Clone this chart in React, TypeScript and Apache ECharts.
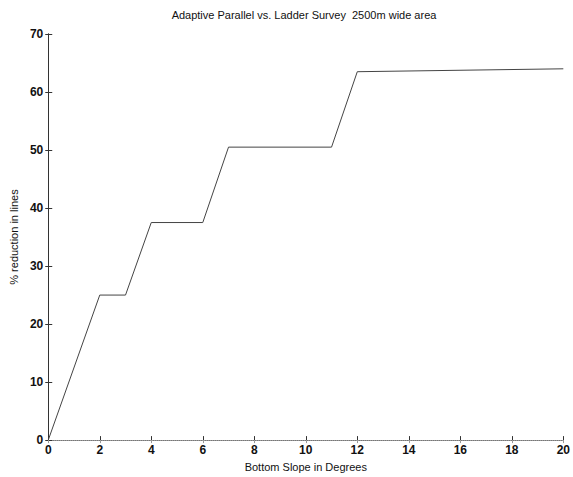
import React, { useEffect, useRef } from "react";
import * as echarts from "echarts";

const slopeDegrees = [0, 2, 3, 4, 6, 7, 11, 12, 20];
const reductionPct = [0, 25, 25, 37.5, 37.5, 50.5, 50.5, 63.5, 64];
const xTicks = [0, 2, 4, 6, 8, 10, 12, 14, 16, 18, 20];
const yTicks = [0, 10, 20, 30, 40, 50, 60, 70];

const titleText = "Adaptive Parallel vs. Ladder Survey  2500m wide area";
const xName = "Bottom Slope in Degrees";
const yName = "% reduction in lines";

export default function App() {
  const ref = useRef<HTMLDivElement>(null);
  useEffect(() => {
    if (!ref.current) return;
    const chart = echarts.init(ref.current, undefined, { renderer: "svg" });
    const font = "Liberation Sans, Arial, sans-serif";
    const axisLine = { show: true, lineStyle: { color: "#333", width: 1 } };
    chart.setOption({
      animation: false,
      backgroundColor: "#fff",
      title: {
        text: titleText,
        left: 299,
        top: 4,
        textAlign: "center",
        textStyle: { fontFamily: font, fontSize: 11, fontWeight: "normal", color: "#111" },
      },
      grid: { left: 48, right: 2, top: 34, bottom: 33 },
      xAxis: [
        {
          type: "value",
          min: 0,
          max: 20,
          interval: 2,
          name: xName,
          nameLocation: "middle",
          nameGap: 20,
          nameTextStyle: { fontFamily: font, fontSize: 11, color: "#111" },
          axisLine,
          axisTick: { show: true, inside: true, length: 4, lineStyle: { color: "#333" } },
          axisLabel: {
            fontFamily: font,
            fontSize: 12,
            fontWeight: "bold",
            color: "#111",
            margin: 4,
            formatter: (v: number) => (xTicks.includes(v) ? String(v) : ""),
          },
          splitLine: { show: false },
        },
        {
          type: "value",
          position: "top",
          min: 0,
          max: 20,
          interval: 2,
          axisLine: { show: true, lineStyle: { color: "#999", width: 1, type: "dotted" } },
          axisTick: { show: true, inside: true, length: 3, lineStyle: { color: "#999" } },
          axisLabel: { show: false },
          splitLine: { show: false },
        },
      ],
      yAxis: [
        {
          type: "value",
          min: 0,
          max: 70,
          interval: 10,
          name: yName,
          nameLocation: "middle",
          nameGap: 28,
          nameRotate: 90,
          nameTextStyle: { fontFamily: font, fontSize: 11, color: "#111" },
          axisLine,
          axisTick: { show: true, inside: true, length: 4, lineStyle: { color: "#333" } },
          axisLabel: {
            fontFamily: font,
            fontSize: 12,
            fontWeight: "bold",
            color: "#111",
            margin: 5,
            formatter: (v: number) => (yTicks.includes(v) ? String(v) : ""),
          },
          splitLine: { show: false },
        },
        {
          type: "value",
          position: "right",
          min: 0,
          max: 70,
          interval: 10,
          axisLine,
          axisTick: { show: true, inside: true, length: 3, lineStyle: { color: "#333" } },
          axisLabel: { show: false },
          splitLine: { show: false },
        },
      ],
      series: [
        {
          type: "line",
          data: slopeDegrees.map((x, i) => [x, reductionPct[i]]),
          showSymbol: false,
          symbol: "none",
          lineStyle: { color: "#444", width: 1 },
        },
      ],
    });
    return () => chart.dispose();
  }, []);
  return (
    <div
      ref={ref}
      style={{ position: "absolute", left: 0, top: 0, width: 573, height: 477, background: "#fff" }}
    />
  );
}
